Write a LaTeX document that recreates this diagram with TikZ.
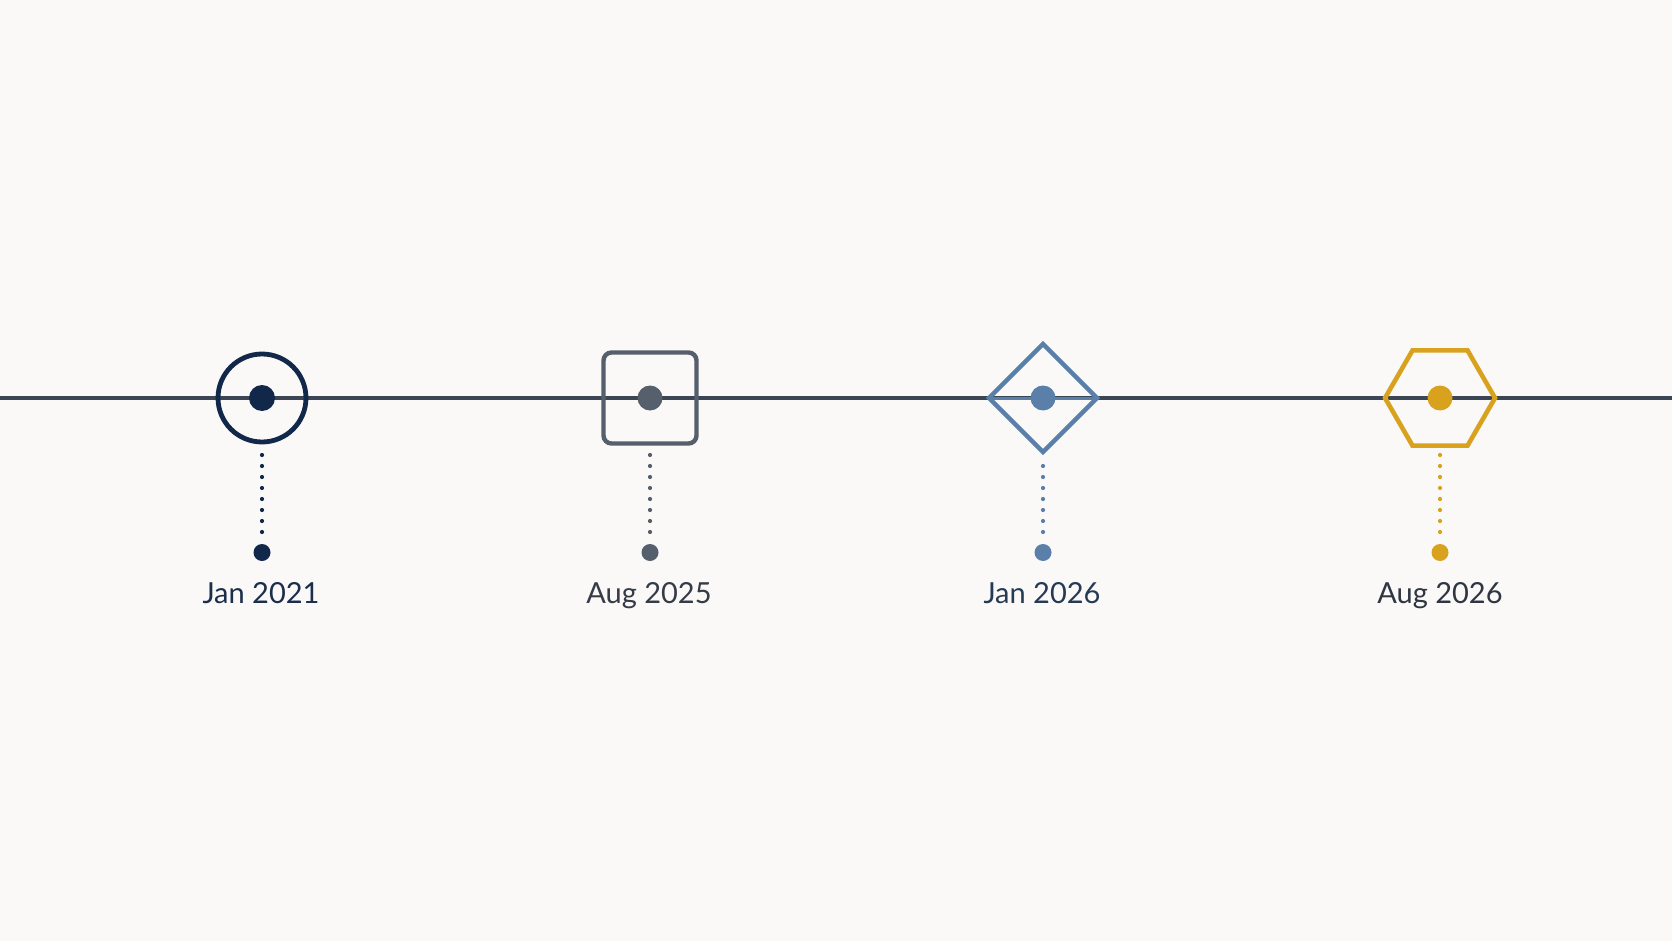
\documentclass[tikz,border=0pt]{standalone}
\usepackage{fontspec}
\setmainfont{Lato}
\usetikzlibrary{shapes.geometric,calc}
\definecolor{bgc}{HTML}{FAF9F7}
\definecolor{linec}{HTML}{3B4553}
\definecolor{navy}{HTML}{12284A}
\definecolor{slate}{HTML}{565F6C}
\definecolor{steel}{HTML}{5A7FA8}
\definecolor{gold}{HTML}{D9A21E}
\definecolor{tnavy}{HTML}{1B2E4B}
\definecolor{tslate}{HTML}{353C47}
\definecolor{tsteel}{HTML}{263A55}
\definecolor{tgold}{HTML}{2F3541}
\begin{document}
\begin{tikzpicture}[x=1pt,y=-1pt,
  marker/.style={draw,line width=4.4pt,inner sep=0pt,outer sep=0pt,fill=none},
  core/.style={circle,inner sep=0pt,outer sep=0pt,minimum size=25pt},
  enddot/.style={circle,inner sep=0pt,outer sep=0pt,minimum size=17pt},
  dotline/.style={line width=4.2pt,line cap=round,dash pattern=on 0pt off 11pt},
  lbl/.style={anchor=base,inner sep=0pt,font=\fontsize{29}{35}\selectfont}]
\fill[bgc] (0,0) rectangle (1672,941);
\useasboundingbox (0,0) rectangle (1672,941);
% axis
\coordinate (L) at (0,398);
\coordinate (R) at (1672,398);
\draw[linec,line width=3.4pt] (L) -- (R);
% markers
\node[marker,circle,draw=navy,line width=4.8pt,minimum size=88pt] (m1) at (262,398) {};
\node[marker,rectangle,rounded corners=8pt,draw=slate,minimum width=93pt,minimum height=91pt] (m2) at (650,398) {};
\node[marker,diamond,draw=steel,line width=4.4pt,minimum width=108pt,minimum height=108pt] (m3) at (1043,398) {};
\draw[steel,line width=3pt] (m3.west) -- (m3.east);
\node[marker,regular polygon,regular polygon sides=6,draw=gold,line width=4.6pt,minimum size=110pt] (m4) at (1440,398) {};
% core dots
\node[core,fill=navy,minimum size=26pt] (k1) at (m1.center) {};
\node[core,fill=slate] (k2) at (m2.center) {};
\node[core,fill=steel] (k3) at (m3.center) {};
\node[core,fill=gold] (k4) at (m4.center) {};
% end dots
\node[enddot,fill=navy] (e1) at (262,552.5) {};
\node[enddot,fill=slate] (e2) at (650,552.5) {};
\node[enddot,fill=steel] (e3) at (1043,552.5) {};
\node[enddot,fill=gold] (e4) at (1440,552.5) {};
% dotted connectors
\draw[dotline,navy] ($(m1.center)+(0,57)$) -- ($(e1.center)+(0,-19.2)$);
\draw[dotline,slate] ($(m2.center)+(0,57)$) -- ($(e2.center)+(0,-19.2)$);
\draw[dotline,steel] ($(m3.center)+(0,68)$) -- ($(e3.center)+(0,-19.2)$);
\draw[dotline,gold] ($(m4.center)+(0,57)$) -- ($(e4.center)+(0,-19.2)$);
% labels
\node[lbl,text=tnavy] (t1) at (261,603) {Jan 2021};
\node[lbl,text=tslate] (t2) at (649,603) {Aug 2025};
\node[lbl,text=tsteel] (t3) at (1042,603) {Jan 2026};
\node[lbl,text=tgold] (t4) at (1440,603) {Aug 2026};
\end{tikzpicture}
\end{document}
